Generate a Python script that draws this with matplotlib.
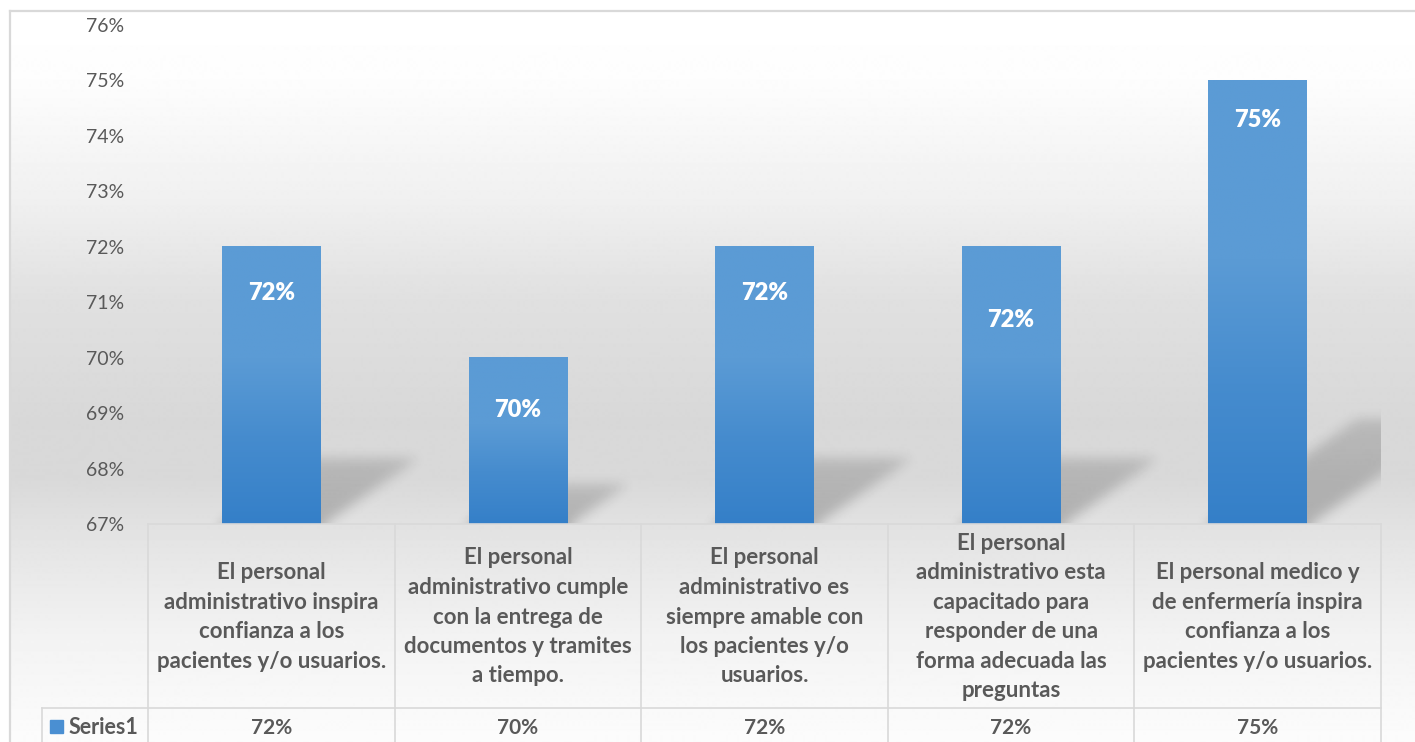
import numpy as np
import matplotlib
matplotlib.use("Agg")
import matplotlib.pyplot as plt
from matplotlib.colors import LinearSegmentedColormap
from matplotlib.patches import Rectangle

plt.rcParams['font.family'] = ['Lato', 'DejaVu Sans']

# Data
categories = [
    "El personal\nadministrativo inspira\nconfianza a los\npacientes y/o usuarios.",
    "El personal\nadministrativo cumple\ncon la entrega de\ndocumentos y tramites\na tiempo.",
    "El personal\nadministrativo es\nsiempre amable con\nlos pacientes y/o\nusuarios.",
    "El personal\nadministrativo esta\ncapacitado para\nresponder de una\nforma adecuada las\npreguntas",
    "El personal medico y\nde enfermería inspira\nconfianza a los\npacientes y/o usuarios.",
]
values = [72, 70, 72, 72, 75]
series_name = "Series1"
y_ticks = list(range(67, 77))

# label offsets below the bar top (in % units)
label_drop = [0.83, 0.94, 0.83, 1.32, 0.71]

W, H = 1415, 742
TXT = "#595959"
GRID = "#D9D9D9"
BAR_TOP = np.array([0x5B, 0x9B, 0xD5]) / 255
BAR_BOT = np.array([0x34, 0x7F, 0xC8]) / 255

fig = plt.figure(figsize=(W / 100, H / 100), dpi=100)

# --- background with vertical gray gradient, in pixel coords
bg = fig.add_axes([0, 0, 1, 1])
bg.set_xlim(0, W)
bg.set_ylim(H, 0)
bg.axis("off")
stops_y = [11, 80, 200, 300, 420, 480, 540, 640, 742]
stops_g = [255, 253, 240, 224, 216, 217, 228, 243, 252]
rows = np.arange(11, H + 1)
gray = np.interp(rows, stops_y, stops_g) / 255
grad = np.repeat(gray[:, None], 2, axis=1)
bg.imshow(grad, cmap="gray", vmin=0, vmax=1, extent=[10, W, H, 11],
          aspect="auto", interpolation="bilinear", zorder=0)
bg.plot([10, W], [11, 11], color=GRID, lw=1.6, zorder=1)
bg.plot([10, 10], [11, H], color=GRID, lw=1.6, zorder=1)

# legend key of the data table
bg.add_patch(Rectangle((50, 720), 13, 13, color="#4A8FD2", zorder=2))
bg.text(69, 727, series_name, color=TXT, fontsize=15.5, fontweight="bold",
        ha="left", va="center", zorder=2)

# --- main plot
px0, px1, py0, py1 = 148, 1381, 25, 524
ax = fig.add_axes([px0 / W, (H - py1) / H, (px1 - px0) / W, (py1 - py0) / H])
ax.set_facecolor("none")
ax.set_xlim(-0.5, 4.5)
ax.set_ylim(67, 76)
for s in ax.spines.values():
    s.set_visible(False)
ax.set_xticks([])
ax.set_yticks(y_ticks)
ax.set_yticklabels([f"{t}%" for t in y_ticks])
ax.tick_params(axis="y", length=0, pad=17, labelsize=14, labelcolor=TXT)

x = np.arange(len(values))
base = 67
width = 0.4

# perspective shadows on the floor, blurred
aw, ah = px1 - px0, py1 - py0
pad = 40
ppx = aw / 5.0
ppy = ah / 9.0
mask = np.zeros((ah + 2 * pad, aw + 2 * pad))
for i, v in enumerate(values):
    hs = 0.235 * (v - base) * ppy
    xl = (x[i] - width / 2 + 0.5) * ppx
    xr = (x[i] + width / 2 + 0.5) * ppx + 5
    for r in range(-pad, int(hs) + 1):
        shift = 1.43 * max(r, 0)
        a = 1.0 - 0.35 * max(r, 0) / hs
        c0 = int(xl + shift) + pad
        c1 = int(xr + shift) + pad
        row = ah + pad - 1 - r
        if 0 <= row < mask.shape[0]:
            mask[row, max(c0, 0):min(c1, mask.shape[1])] = np.maximum(
                mask[row, max(c0, 0):min(c1, mask.shape[1])], a)

sig = 6.0
k = np.arange(-18, 19)
kern = np.exp(-0.5 * (k / sig) ** 2)
kern /= kern.sum()
blur = np.zeros_like(mask)
for j, w in zip(k, kern):
    blur += w * np.roll(mask, j, axis=0)
mask = blur
blur = np.zeros_like(mask)
for j, w in zip(k, kern):
    blur += w * np.roll(mask, j, axis=1)
shadow = blur[pad:pad + ah, pad:pad + aw]
rgba = np.zeros((ah, aw, 4))
rgba[..., 3] = shadow * 0.22
ax.imshow(rgba, extent=[-0.5, 4.5, 67, 76], aspect="auto", origin="upper",
          interpolation="bilinear", zorder=1)

# bars with vertical gradient fill
bars = ax.bar(x, [v - base for v in values], bottom=base, width=width,
              color="none", zorder=2)
cmap = LinearSegmentedColormap.from_list(
    "bar", [(0.0, BAR_BOT), (0.55, tuple(BAR_TOP * 0.45 + BAR_BOT * 0.55)), (1.0, BAR_TOP)])
for b, v in zip(bars, values):
    x0 = b.get_x()
    x1 = x0 + b.get_width()
    g = np.linspace(0, 1, 200)[:, None]
    # keep the upper part light and darken toward the base
    g = np.clip(g / 0.6, 0, 1) ** 0.9
    ax.imshow(g, cmap=cmap, vmin=0, vmax=1, extent=[x0, x1, base, v],
              origin="lower", aspect="auto", zorder=3)

for i, v in enumerate(values):
    ax.text(x[i], v - label_drop[i], f"{v}%", ha="center", va="center",
            color="white", fontsize=17, fontweight="heavy", zorder=4)

ax.set_xlim(-0.5, 4.5)
ax.set_ylim(67, 76)

# --- data table below the plot
tab = fig.add_axes([px0 / W, 0, (px1 - px0) / W, (H - py1) / H])
tab.set_facecolor("none")
tab.set_xlim(-0.5, 4.5)
tab.set_ylim(H, py1)
tab.axis("off")
row_split = 708
leg_left = (42 - px0) / ppx - 0.5
tab.plot([-0.5, 4.5], [py1, py1], color=GRID, lw=1.2, clip_on=False)
tab.plot([leg_left, 4.5], [row_split, row_split], color=GRID, lw=1.2, clip_on=False)
for xb in np.arange(-0.5, 5.0, 1.0):
    tab.plot([xb, xb], [py1, H], color=GRID, lw=1.2, clip_on=False)
tab.plot([leg_left, leg_left], [row_split, H], color=GRID, lw=1.2, clip_on=False)

for i, (c, v) in enumerate(zip(categories, values)):
    tab.text(x[i], (py1 + row_split) / 2 + 1, c, ha="center", va="center",
             color=TXT, fontsize=16, fontweight="bold", linespacing=1.5,
             clip_on=False)
    tab.text(x[i], 728, f"{v}%", ha="center", va="center", color=TXT,
             fontsize=15, fontweight="bold", clip_on=False)

fig.savefig("out.png", dpi=100)
